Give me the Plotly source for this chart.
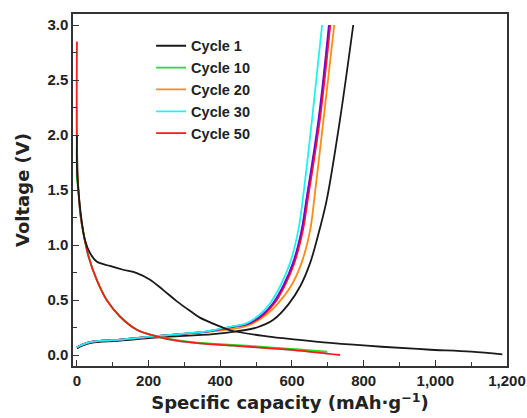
import plotly.graph_objects as go

# ---- data ----
# Cycle 1 discharge / charge
c1_dis_x = [0, 0, 4, 12, 22, 36, 55, 92, 129, 167, 204, 241, 278, 316, 343, 399, 427, 530, 613, 707, 850, 977, 1100, 1187]
c1_dis_v = [2.0, 1.7, 1.5, 1.25, 1.05, 0.93, 0.85, 0.81, 0.775, 0.745, 0.685, 0.59, 0.49, 0.40, 0.34, 0.26, 0.225, 0.17, 0.14, 0.11, 0.075, 0.05, 0.03, 0.005]
c1_chg_x = [0, 15, 40, 120, 230, 380, 445, 502, 548, 590, 623, 651, 677, 697, 734, 771]
c1_chg_v = [0.06, 0.085, 0.11, 0.13, 0.16, 0.19, 0.215, 0.25, 0.32, 0.46, 0.625, 0.84, 1.14, 1.41, 2.14, 3.0]

# Cycles 10-50 discharge (nearly identical)
dis_x_c50 = [0, 0, 4, 10, 18, 32, 55, 83, 120, 167, 222, 278, 343, 436, 530, 620, 734]
dis_v_c50 = [2.85, 1.9, 1.5, 1.27, 1.11, 0.90, 0.685, 0.50, 0.35, 0.23, 0.17, 0.13, 0.105, 0.085, 0.063, 0.04, 0.0]
dis_x_c10 = [0, 0, 4, 10, 18, 32, 55, 83, 120, 167, 222, 278, 343, 436, 530, 620, 698]
dis_v_c10 = [1.75, 1.6, 1.5, 1.27, 1.11, 0.90, 0.685, 0.50, 0.35, 0.23, 0.17, 0.135, 0.11, 0.092, 0.072, 0.05, 0.03]
dis_x_c30 = [0, 0, 4, 10, 18, 32, 55, 83, 120, 167, 222, 278, 343, 436, 530, 620, 700]
dis_v_c30 = [2.25, 1.9, 1.5, 1.27, 1.11, 0.90, 0.685, 0.50, 0.35, 0.23, 0.17, 0.13, 0.105, 0.085, 0.063, 0.04, 0.015]

# Cycles 10-50 charge (voltage grid shared, capacities per cycle)
chg_v = [0.07, 0.095, 0.12, 0.14, 0.17, 0.195, 0.215, 0.256, 0.29, 0.37, 0.47, 0.625, 0.84, 1.14, 1.41, 2.14, 3.0]
chg_x_c30 = [0, 15, 40, 120, 213, 300, 360, 427, 474, 511, 539, 567, 595, 618, 630, 656, 684]
chg_x_c40 = [0, 15, 40, 120, 215, 303, 365, 433, 481, 519, 547, 575, 603, 627, 640, 674, 703]
chg_x_c10 = [0, 15, 40, 120, 216, 304, 366, 435, 483, 521, 549, 577, 605, 629, 642, 676, 705]
chg_x_c50 = [0, 15, 40, 120, 217, 306, 368, 437, 485, 523, 551, 579, 607, 631, 644, 678, 707]
chg_x_c20 = [0, 15, 40, 120, 220, 312, 380, 465, 492, 530, 561, 597, 627, 651, 662, 688, 718]

colors = {"c1": "#1a1a1a", "c10": "#22e022", "c20": "#ff8a14", "c30": "#1ef2f2", "c40": "#7d00d0", "c50": "#ff1a1a"}

fig = go.Figure()

def add(x, y, color):
    fig.add_trace(go.Scatter(x=x, y=y, mode="lines",
                             line=dict(color=color, width=1.8, shape="spline", smoothing=1.0),
                             showlegend=False, hoverinfo="skip"))

# charge curves
add(c1_chg_x, c1_chg_v, colors["c1"])
add(chg_x_c20, chg_v, colors["c20"])
add(chg_x_c10, chg_v, colors["c10"])
add(chg_x_c50, chg_v, colors["c50"])
add(chg_x_c40, chg_v, colors["c40"])
add(chg_x_c30, chg_v, colors["c30"])
# discharge curves
add(dis_x_c30, dis_v_c30, colors["c30"])
add(dis_x_c10, dis_v_c10, colors["c10"])
add(dis_x_c50, dis_v_c50, colors["c50"])
add(c1_dis_x, c1_dis_v, colors["c1"])

# legend entries
legend_names = ["Cycle 1", "Cycle 10", "Cycle 20", "Cycle 30", "Cycle 50"]
legend_keys = ["c1", "c10", "c20", "c30", "c50"]
for nm, key in zip(legend_names, legend_keys):
    fig.add_trace(go.Scatter(x=[None], y=[None], mode="lines", line=dict(color=colors[key], width=1.8),
                             name="<b>" + nm + "</b>", showlegend=True))

font_fam = "Liberation Sans, Arial, sans-serif"
title_fam = "DejaVu Sans, Liberation Sans, sans-serif"
axis_common = dict(showline=True, linecolor="#333", linewidth=1.5, mirror=True, ticks="inside",
                   ticklen=6, tickwidth=1.2, tickcolor="#333", showgrid=False, zeroline=False,
                   automargin=False,
                   tickfont=dict(family=font_fam, size=15, color="#222"))

fig.update_layout(
    width=527, height=418,
    margin=dict(l=73, r=20, t=14, b=52),
    paper_bgcolor="white", plot_bgcolor="white",
    font=dict(family=font_fam, color="#222"),
    xaxis=dict(range=[-11, 1200], dtick=200, tick0=0, tickformat=",",
               tickprefix="<b>", ticksuffix="</b>",
               minor=dict(dtick=100, ticks="inside", ticklen=4, tickcolor="#333"),
               title=dict(text="<b>Specific capacity (mAh·g<sup>−1</sup>)</b>",
                          font=dict(size=18, family=title_fam), standoff=9),
               **axis_common),
    yaxis=dict(range=[-0.1, 3.1], dtick=0.5, tick0=0, tickformat=".1f",
               tickprefix="<b>", ticksuffix="</b>",
               minor=dict(dtick=0.25, ticks="inside", ticklen=4, tickcolor="#333"),
               title=dict(text="<b>Voltage (V)</b>", font=dict(size=18, family=title_fam), standoff=13),
               **axis_common),
    legend=dict(x=0.18, y=0.955, xanchor="left", yanchor="top", bgcolor="rgba(0,0,0,0)",
                font=dict(family=font_fam, size=14.5, color="#222"), tracegroupgap=0, itemwidth=30),
)

fig.write_html("out.html")
